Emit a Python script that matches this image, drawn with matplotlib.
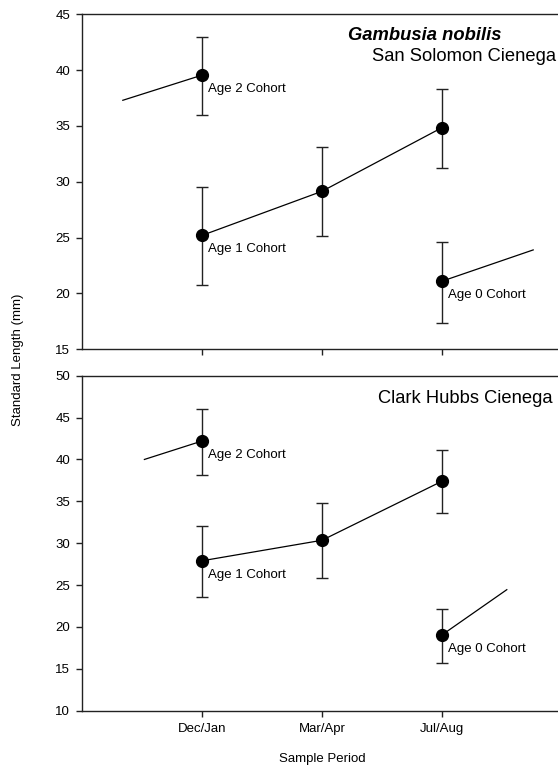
import matplotlib
matplotlib.use("Agg")
import matplotlib.pyplot as plt

plt.rcParams['font.family'] = ['Liberation Sans', 'DejaVu Sans']

# Sample periods (x positions 1..3 on a 0..4 axis)
periods = ["Dec/Jan", "Mar/Apr", "Jul/Aug"]
period_x = [1, 2, 3]

# San Solomon Cienega: cohort means with lower/upper error limits (mm)
ss_age2_x = [1]
ss_age2_mean = [39.55]
ss_age2_lo = [36.0]
ss_age2_hi = [43.0]
ss_age2_lead_x = [0.34, 1]
ss_age2_lead_y = [37.3, 39.55]

ss_age1_x = [1, 2, 3]
ss_age1_mean = [25.2, 29.15, 34.85]
ss_age1_lo = [20.8, 25.15, 31.25]
ss_age1_hi = [29.5, 33.1, 38.35]

ss_age0_x = [3]
ss_age0_mean = [21.1]
ss_age0_lo = [17.4]
ss_age0_hi = [24.65]
ss_age0_trail_x = [3, 3.76]
ss_age0_trail_y = [21.1, 23.9]

# Clark Hubbs Cienega
ch_age2_x = [1]
ch_age2_mean = [42.2]
ch_age2_lo = [38.2]
ch_age2_hi = [46.0]
ch_age2_lead_x = [0.52, 1]
ch_age2_lead_y = [40.0, 42.2]

ch_age1_x = [1, 2, 3]
ch_age1_mean = [27.9, 30.35, 37.4]
ch_age1_lo = [23.6, 25.8, 33.55]
ch_age1_hi = [32.0, 34.8, 41.1]

ch_age0_x = [3]
ch_age0_mean = [19.05]
ch_age0_lo = [15.65]
ch_age0_hi = [22.2]
ch_age0_trail_x = [3, 3.54]
ch_age0_trail_y = [19.05, 24.45]

W, H = 558, 767
fig = plt.figure(figsize=(W / 100, H / 100), dpi=100)

left = 82 / W
width = 480 / W
ax_top = fig.add_axes([left, 1 - 349.3 / H, width, 335 / H])
ax_bot = fig.add_axes([left, 1 - 710.7 / H, width, 335 / H])

FS = 9.5
line_kw = dict(color='black', lw=0.9)


def cohort(ax, x, mean, lo, hi, label):
    yerr = [[m - l for m, l in zip(mean, lo)], [h - m for m, h in zip(mean, hi)]]
    ax.errorbar(x, mean, yerr=yerr, fmt='none', ecolor='#222222',
                elinewidth=1.0, capsize=4.5, capthick=1.0, zorder=2)
    ax.plot(x, mean, '-', color='black', lw=0.9, zorder=3)
    ax.plot(x, mean, 'o', color='black', ms=8.5, zorder=4)
    ax.annotate(label, (x[0], mean[0]), xytext=(6, -14),
                textcoords='offset pixels', ha='left', va='center',
                fontsize=FS)


def style(ax, ylim, yticks):
    ax.set_xlim(0, 4)
    ax.set_ylim(*ylim)
    ax.set_yticks(yticks)
    ax.set_xticks(period_x)
    for s in ['right']:
        ax.spines[s].set_visible(False)
    for s in ['left', 'top', 'bottom']:
        ax.spines[s].set_linewidth(1.0)
        ax.spines[s].set_color('#222222')
    ax.tick_params(axis='both', direction='out', length=4, width=1.0,
                   labelsize=FS, color='#222222')
    ax.tick_params(axis='y', pad=4.5)
    ax.tick_params(axis='x', pad=5)


# Upper panel
cohort(ax_top, ss_age2_x, ss_age2_mean, ss_age2_lo, ss_age2_hi, "Age 2 Cohort")
ax_top.plot(ss_age2_lead_x, ss_age2_lead_y, **line_kw)
cohort(ax_top, ss_age1_x, ss_age1_mean, ss_age1_lo, ss_age1_hi, "Age 1 Cohort")
cohort(ax_top, ss_age0_x, ss_age0_mean, ss_age0_lo, ss_age0_hi, "Age 0 Cohort")
ax_top.plot(ss_age0_trail_x, ss_age0_trail_y, **line_kw)
style(ax_top, (15, 45), [15, 20, 25, 30, 35, 40, 45])
ax_top.set_xticklabels([])
ax_top.text(0.873, 0.923, "Gambusia nobilis", transform=ax_top.transAxes,
            ha='right', va='baseline', fontsize=13.2, fontweight='bold',
            fontstyle='italic')
ax_top.text(0.9875, 0.862, "San Solomon Cienega", transform=ax_top.transAxes,
            ha='right', va='baseline', fontsize=13.2)

# Lower panel
cohort(ax_bot, ch_age2_x, ch_age2_mean, ch_age2_lo, ch_age2_hi, "Age 2 Cohort")
ax_bot.plot(ch_age2_lead_x, ch_age2_lead_y, **line_kw)
cohort(ax_bot, ch_age1_x, ch_age1_mean, ch_age1_lo, ch_age1_hi, "Age 1 Cohort")
cohort(ax_bot, ch_age0_x, ch_age0_mean, ch_age0_lo, ch_age0_hi, "Age 0 Cohort")
ax_bot.plot(ch_age0_trail_x, ch_age0_trail_y, **line_kw)
style(ax_bot, (10, 50), [10, 15, 20, 25, 30, 35, 40, 45, 50])
ax_bot.set_xticklabels(periods)
ax_bot.text(0.981, 0.919, "Clark Hubbs Cienega", transform=ax_bot.transAxes,
            ha='right', va='baseline', fontsize=13.2)

fig.text(18 / W, 1 - 360 / H, "Standard Length (mm)", rotation=90,
         ha='center', va='center', fontsize=FS)
fig.text((82 + 240) / W, 1 - 759 / H, "Sample Period", ha='center',
         va='center', fontsize=FS)

fig.savefig("out.png", dpi=100)
